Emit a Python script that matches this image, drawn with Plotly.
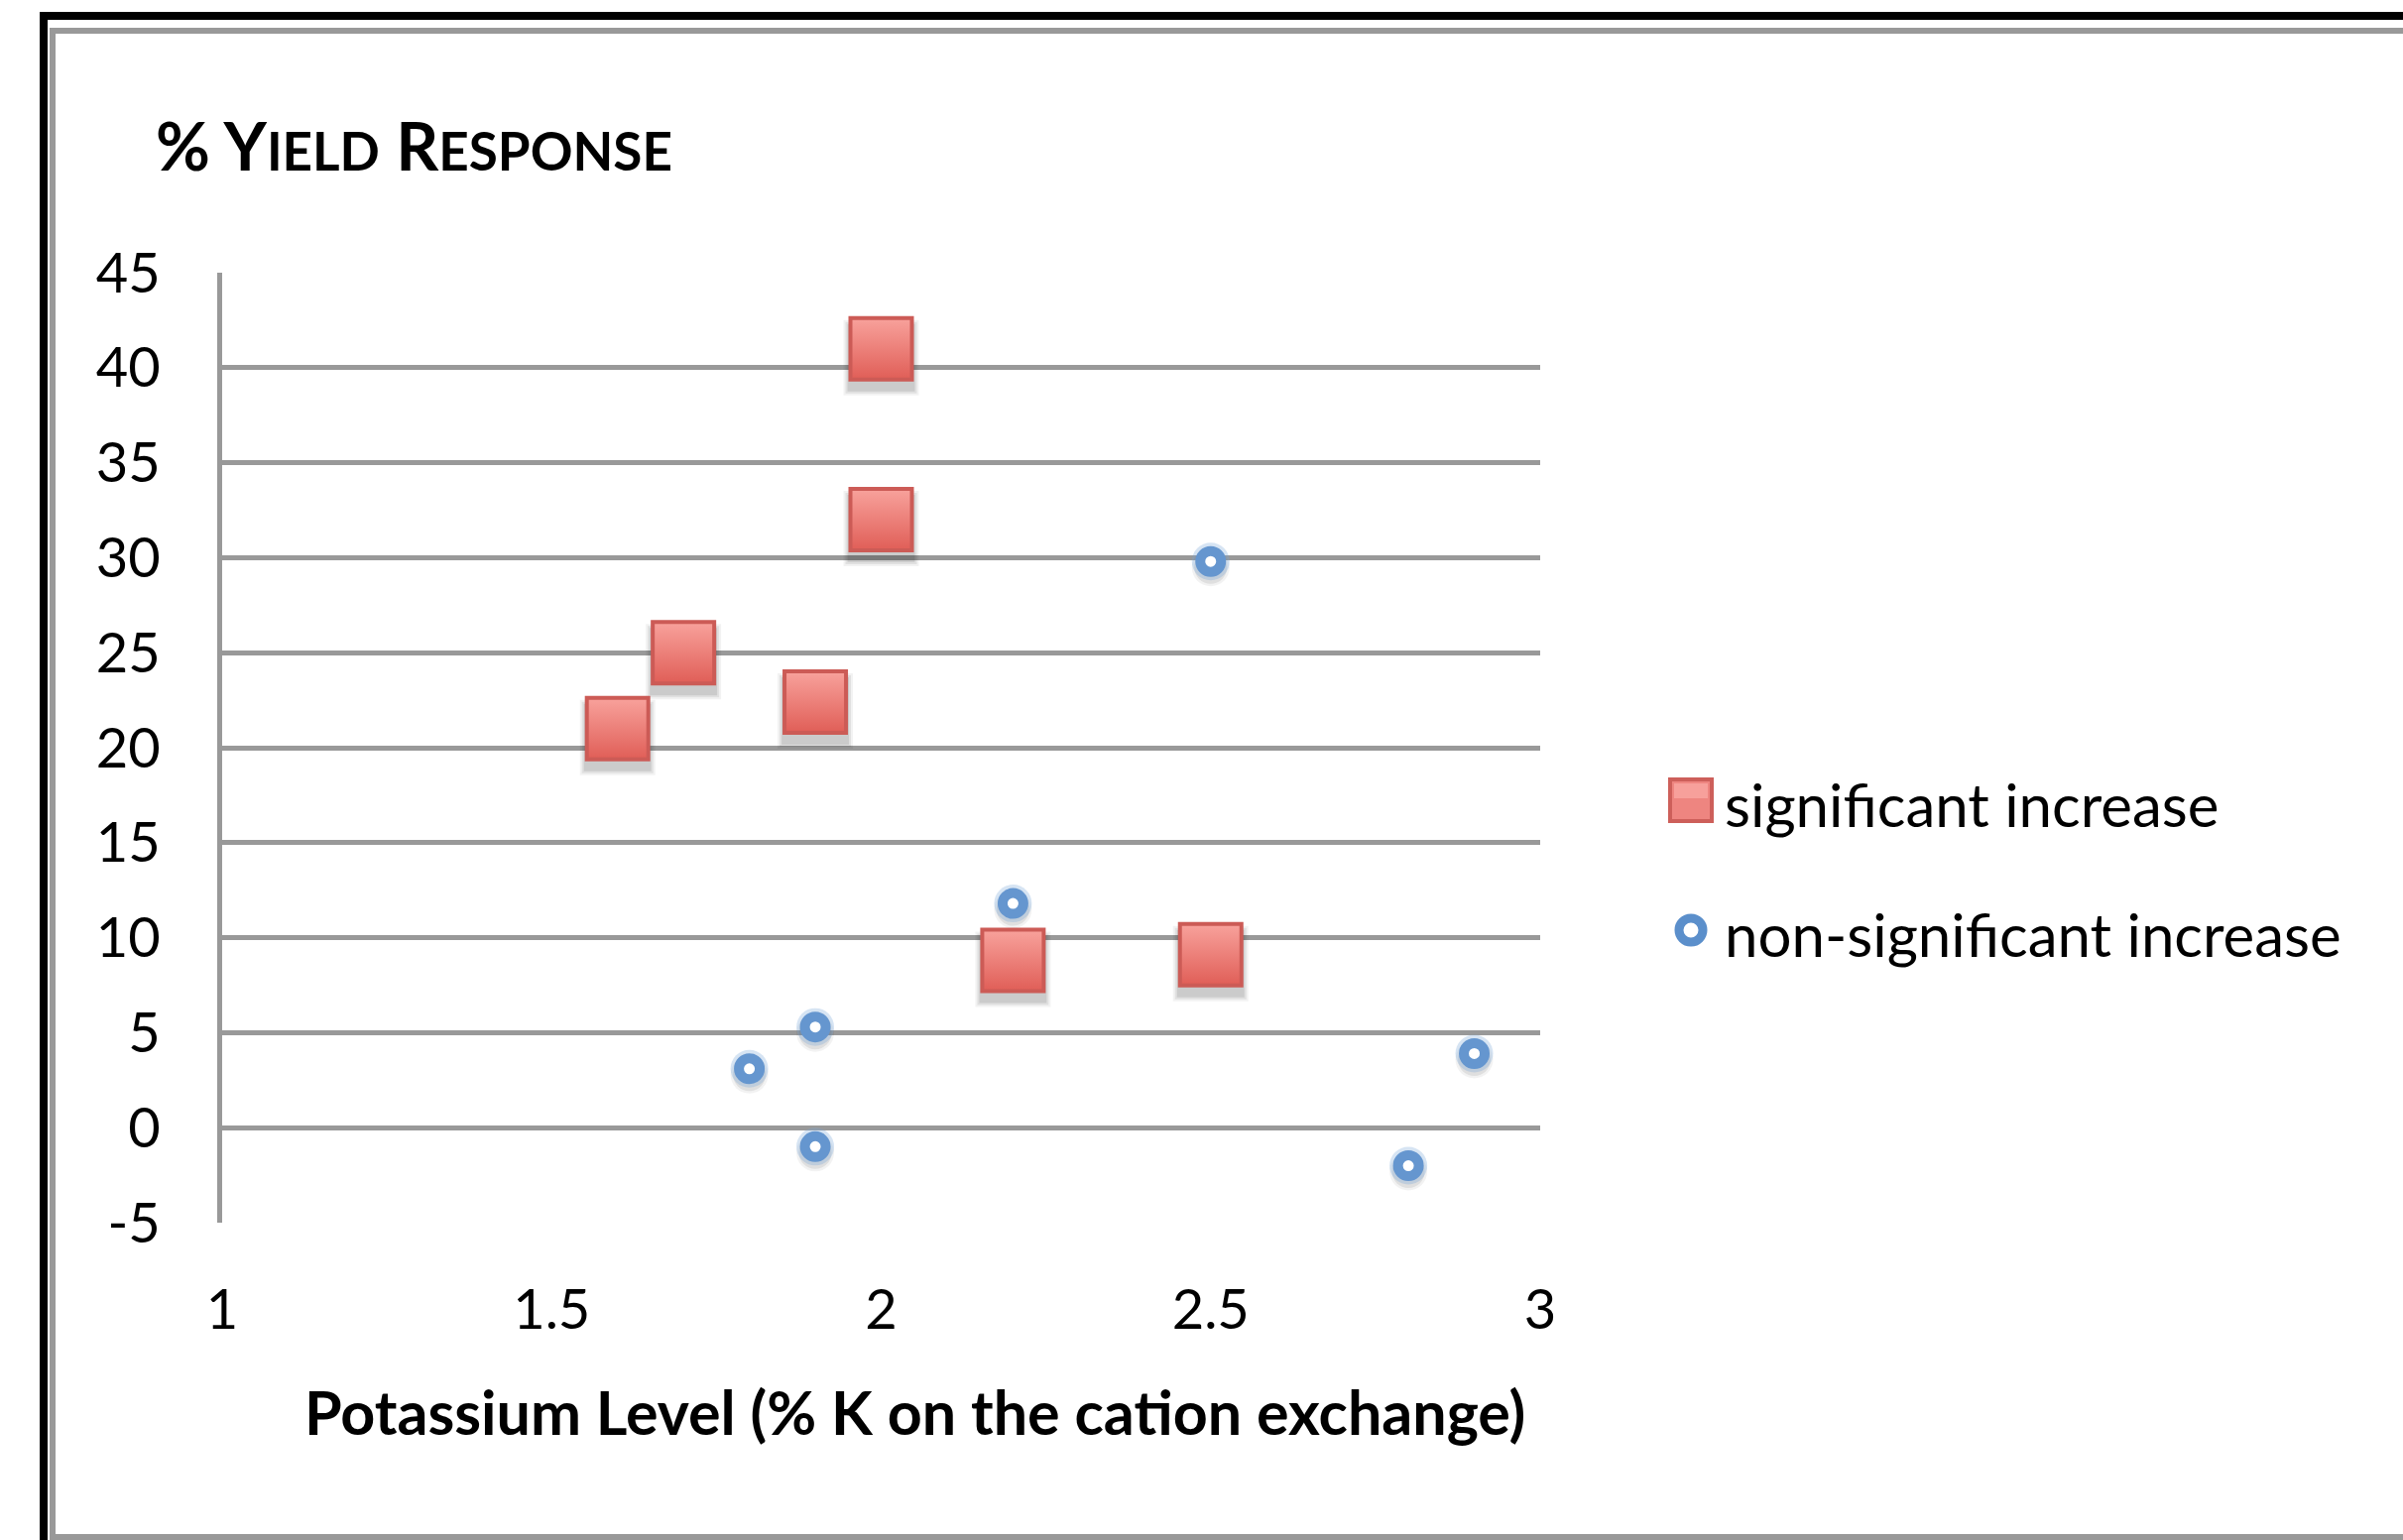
import plotly.graph_objects as go

# Yield response vs. potassium saturation on the cation exchange
sig_k = [1.6, 1.7, 1.9, 2.0, 2.0, 2.2, 2.5]
sig_yield = [21.0, 25.0, 22.4, 41.0, 32.0, 8.8, 9.1]

nonsig_k = [1.8, 1.9, 1.9, 2.2, 2.5, 2.8, 2.9]
nonsig_yield = [3.1, 5.3, -1.0, 11.8, 29.8, -2.0, 3.9]

x_ticks = [1, 1.5, 2, 2.5, 3]
x_tick_text = ["1", "1.5", "2", "2.5", "3"]
y_ticks = [-5, 0, 5, 10, 15, 20, 25, 30, 35, 40, 45]
y_tick_text = ["-5", "0", "5", "10", "15", "20", "25", "30", "35", "40", "45"]

series_names = ["significant increase", "non-significant increase"]

# Canvas and plot-area geometry (pixels)
W, H = 2423, 1553
L, R, T, B = 224, 1553, 275, 1233
X_RANGE = [1, 3]
Y_RANGE = [-5, 45]
FONT = "Lato"


def px(x):
    return (x - L) / (R - L)


def py(y):
    return (B - y) / (B - T)


# vertical pixel offset expressed in y-data units, used for drop shadows
def dy(pixels):
    return pixels * (Y_RANGE[1] - Y_RANGE[0]) / (B - T)


fig = go.Figure()

# soft drop shadows under the squares
for size, alpha in [(76, 0.05), (72, 0.07), (68, 0.09)]:
    fig.add_trace(go.Scatter(
        x=sig_k, y=[v - dy(9) for v in sig_yield], mode="markers",
        marker=dict(symbol="square", size=size, color=f"rgba(0,0,0,{alpha})",
                    line=dict(width=0)),
        hoverinfo="skip", showlegend=False))

# soft drop shadows / halo under the circles
for size, alpha in [(38, 0.05), (33, 0.08)]:
    fig.add_trace(go.Scatter(
        x=nonsig_k, y=[v - dy(6) for v in nonsig_yield], mode="markers",
        marker=dict(symbol="circle", size=size, color=f"rgba(0,0,0,{alpha})",
                    line=dict(width=0)),
        hoverinfo="skip", showlegend=False))
fig.add_trace(go.Scatter(
    x=nonsig_k, y=nonsig_yield, mode="markers",
    marker=dict(symbol="circle", size=38, color="rgba(120,165,215,0.30)",
                line=dict(width=0)),
    hoverinfo="skip", showlegend=False))

fig.add_trace(go.Scatter(
    x=sig_k, y=sig_yield, mode="markers", name=series_names[0],
    marker=dict(symbol="square", size=62, color="#F8A29C",
                gradient=dict(type="vertical", color="#E05E57"),
                line=dict(color="#CC5B56", width=4)),
    showlegend=False))

fig.add_trace(go.Scatter(
    x=nonsig_k, y=nonsig_yield, mode="markers", name=series_names[1],
    marker=dict(symbol="circle", size=21, color="white",
                line=dict(color="#6596CF", width=10)),
    showlegend=False))

shapes = []

# double frame around the chart: black outer, grey inner
shapes.append(dict(type="path", xref="paper", yref="paper",
                   path=f"M {px(44)},{py(1600)} L {px(44)},{py(16)} L {px(2500)},{py(16)}",
                   line=dict(color="black", width=8)))
shapes.append(dict(type="path", xref="paper", yref="paper",
                   path=(f"M {px(2500)},{py(1550)} L {px(53)},{py(1550)} "
                         f"L {px(53)},{py(31)} L {px(2500)},{py(31)}"),
                   line=dict(color="#999999", width=6)))

# legend keys
LEG_X = 1705
ROW1, ROW2 = 807, 938
shapes.append(dict(type="rect", xref="paper", yref="paper",
                   x0=px(LEG_X - 21), x1=px(LEG_X + 21),
                   y0=py(ROW1 + 21), y1=py(ROW1 - 21),
                   fillcolor="#EE8580", line=dict(color="#CD5F5A", width=4)))
shapes.append(dict(type="rect", xref="paper", yref="paper",
                   x0=px(LEG_X - 17), x1=px(LEG_X + 17),
                   y0=py(ROW1 - 2), y1=py(ROW1 - 17),
                   fillcolor="#F7A09B", line=dict(width=0)))
shapes.append(dict(type="circle", xref="paper", yref="paper",
                   x0=px(LEG_X - 12), x1=px(LEG_X + 12),
                   y0=py(ROW2 + 12), y1=py(ROW2 - 12),
                   fillcolor="white", line=dict(color="#5B8FCB", width=9)))

annotations = [
    dict(xref="paper", yref="paper", x=px(1737), y=py(ROW1 + 4),
         xanchor="left", yanchor="middle", showarrow=False,
         text=series_names[0], font=dict(family=FONT, size=60, color="black")),
    dict(xref="paper", yref="paper", x=px(1737), y=py(ROW2 + 4),
         xanchor="left", yanchor="middle", showarrow=False,
         text=series_names[1], font=dict(family=FONT, size=60, color="black")),
    # chart title, small caps
    dict(xref="paper", yref="paper", x=px(155), y=py(188),
         xanchor="left", yanchor="bottom", showarrow=False,
         text=("<b>% Y<span style='font-size:53px'>IELD</span> "
               "R<span style='font-size:53px'>ESPONSE</span></b>"),
         font=dict(family=FONT, size=67, color="black")),
    # x-axis title
    dict(xref="paper", yref="paper", x=px(922), y=py(1462),
         xanchor="center", yanchor="bottom", showarrow=False,
         text="<b>Potassium Level (% K on the cation exchange)</b>",
         font=dict(family=FONT, size=61, color="black")),
]

fig.update_layout(
    width=W, height=H,
    margin=dict(l=L, r=W - R, t=T, b=H - B, autoexpand=False),
    paper_bgcolor="white", plot_bgcolor="white",
    showlegend=False,
    shapes=shapes,
    annotations=annotations,
    xaxis=dict(range=X_RANGE, tickvals=x_ticks, ticktext=x_tick_text,
               showgrid=False, zeroline=False, showline=False, ticks="",
               ticklabelstandoff=50,
               tickfont=dict(family=FONT, size=56, color="black")),
    yaxis=dict(range=Y_RANGE, tickvals=y_ticks, ticktext=y_tick_text,
               showgrid=True, gridcolor="#999999", gridwidth=5, zeroline=False,
               showline=True, linecolor="#999999", linewidth=5, ticks="",
               ticklabelstandoff=46,
               tickfont=dict(family=FONT, size=56, color="black")),
)

fig.write_html("out.html")
